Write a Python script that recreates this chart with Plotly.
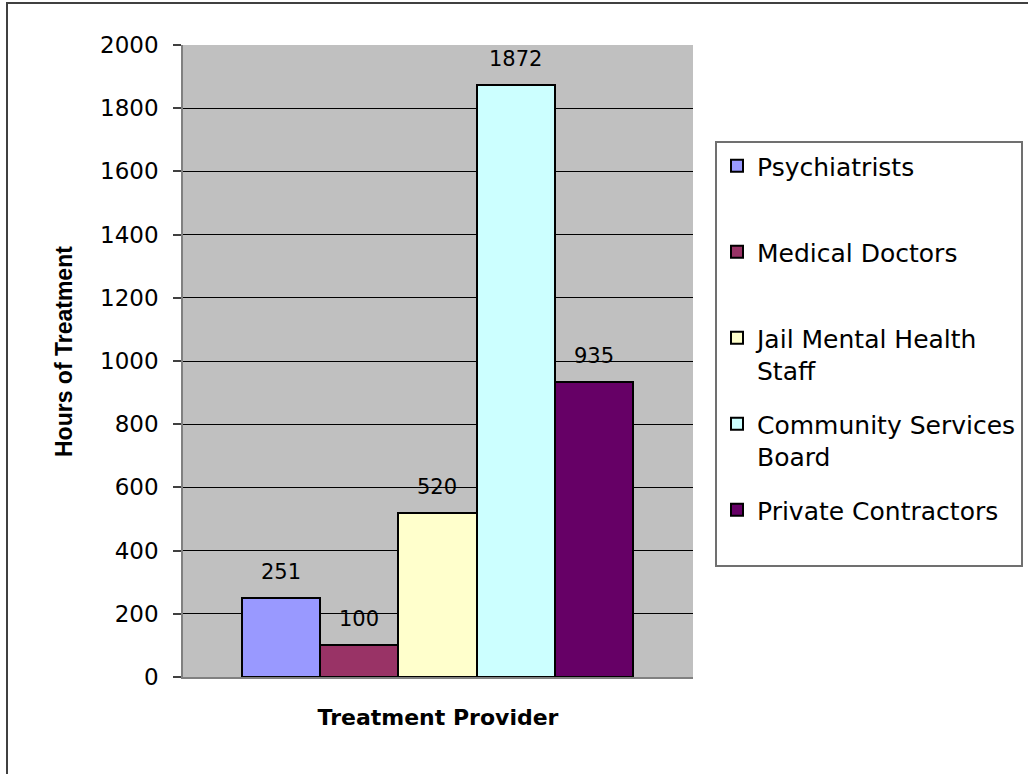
import plotly.graph_objects as go

categories = ["Psychiatrists", "Medical Doctors", "Jail Mental Health Staff",
              "Community Services Board", "Private Contractors"]
legend_names = ["Psychiatrists<br> ", "Medical Doctors<br> ", "Jail Mental Health<br>Staff",
                "Community Services<br>Board", "Private Contractors<br> "]
hours = [251, 100, 520, 1872, 935]
colors = ["#9999FF", "#993366", "#FFFFCC", "#CCFFFF", "#660066"]

W, H = 1028, 774
L, R, T, B = 183, 1028 - 693, 45, 774 - 677
pw, ph = W - L - R, H - T - B

def px_x(x):
    return (x - L) / pw

def px_y(y):
    return (H - B - y) / ph

fig = go.Figure()
for i, (cat, name, val, col) in enumerate(zip(categories, legend_names, hours, colors)):
    fig.add_trace(go.Bar(
        x=[cat], y=[val], name=name, legendgroup=f"g{i}",
        marker=dict(color=col, line=dict(color="#000000", width=2), opacity=1),
        width=1,
    ))
    fig.add_annotation(x=cat, y=val, text=str(val), showarrow=False,
                       yanchor="bottom", yshift=12,
                       font=dict(family="DejaVu Sans", size=21, color="#000000"))

fig.add_annotation(xref="paper", yref="paper", x=px_x(64), y=px_y(352),
                   text="<b>Hours of Treatment</b>", textangle=-90, showarrow=False,
                   xanchor="center", yanchor="middle",
                   font=dict(family="Liberation Sans", size=23, color="#000000"))

fig.update_layout(
    width=W, height=H,
    margin=dict(l=L, r=R, t=T, b=B, autoexpand=False),
    paper_bgcolor="#FFFFFF", plot_bgcolor="#C0C0C0",
    barmode="overlay", bargap=0,
    showlegend=True,
    legend=dict(
        x=px_x(715), y=px_y(141), xanchor="left", yanchor="top",
        bordercolor="#707070", borderwidth=2, bgcolor="#FFFFFF",
        font=dict(family="DejaVu Sans", size=25, color="#000000"),
        tracegroupgap=18, valign="top", itemwidth=30,
    ),
    xaxis=dict(
        type="category", range=[-1.254, 5.267],
        showticklabels=False, ticks="", showgrid=False,
        showline=True, linecolor="#808080", linewidth=2,
        title=dict(text="<b>Treatment Provider</b>", standoff=32,
                   font=dict(family="DejaVu Sans", size=22, color="#000000")),
    ),
    yaxis=dict(
        range=[0, 2000], dtick=200, tick0=0,
        showgrid=True, gridcolor="#000000", gridwidth=1, zeroline=False,
        showline=True, linecolor="#808080", linewidth=1.5,
        ticks="outside", ticklen=8, tickcolor="#404040", tickwidth=1.5,
        ticklabelstandoff=10,
        tickfont=dict(family="DejaVu Sans", size=23, color="#000000"),
    ),
    shapes=[dict(type="rect", xref="paper", yref="paper",
                 x0=px_x(7), x1=px_x(1035), y0=px_y(780), y1=px_y(3),
                 line=dict(color="#404040", width=2), fillcolor="rgba(0,0,0,0)",
                 layer="above")],
)

fig.write_html("out.html", config={"displayModeBar": False},
               post_script="document.body.style.margin='0px';")
